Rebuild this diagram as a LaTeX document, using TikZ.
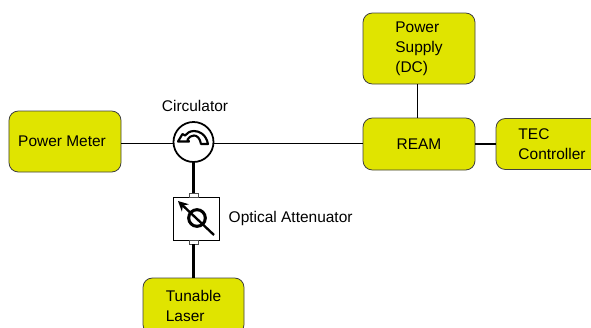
\documentclass[tikz,border=0pt]{standalone}
\usepackage{fontspec}
\setmainfont{Liberation Sans}
\usepackage{xcolor}
\usepackage{tikz}
\usetikzlibrary{arrows.meta, calc}
\definecolor{boxyellow}{RGB}{224,228,0}

\begin{document}
\begin{tikzpicture}[
    x=0.03cm, y=-0.03cm,
    box/.style={rectangle, draw=black!75, fill=boxyellow, rounded corners=8pt, line width=0.7pt, align=left, inner sep=0pt, font=\fontsize{13.2}{17}\selectfont},
    label text/.style={align=left, inner sep=0pt, font=\fontsize{13.2}{17}\selectfont},
    link/.style={line width=1.3pt},
    thick link/.style={line width=1.8pt},
    port/.style={rectangle, draw=black!70, fill=white, line width=0.5pt, minimum width=0.27cm, minimum height=0.12cm, inner sep=0pt}
]
\useasboundingbox[clip] (0, 0) rectangle (591, 327);

% boxes
\node[box, minimum width=3.36cm, minimum height=1.83cm] (meter) at (65, 141.5) {Power Meter\hspace*{5pt}};
\node[box, minimum width=3.36cm, minimum height=2.13cm] (supply) at (419, 48.5) {Power\\Supply\\(DC)};
\node[box, minimum width=3.36cm, minimum height=1.56cm] (ream) at (419, 144) {REAM};
\node[box, minimum width=3.36cm, minimum height=1.53cm] (tec) at (552, 144) {TEC\\Controller};
\node[box, minimum width=3.03cm, minimum height=1.68cm] (laser) at (193.5, 306) {Tunable\\Laser};

% circulator
\node[circle, draw=black, fill=white, line width=1.5pt, minimum size=1.2cm, inner sep=0pt] (circ) at (193.5, 142) {};
\draw[line width=1.8pt, fill=white, line join=round] (208, 144) .. controls (206, 134) and (199, 131) .. (194, 131) .. controls (190, 131) and (187, 133) .. (185, 135.5) -- (182.5, 134) -- (178, 141.5) -- (189, 141.5) -- (187.5, 139.5) .. controls (189, 137) and (191.5, 135.5) .. (194, 135.5) .. controls (197, 135.5) and (200, 138) .. (201, 144) -- cycle;

% attenuator
\node[rectangle, draw=black, fill=white, line width=0.8pt, minimum width=1.38cm, minimum height=1.29cm, inner sep=0pt] (atten) at (196, 218.5) {};
\node[port] (portin) at (193.5, 195) {};
\node[port] (portout) at (193.5, 242) {};
\node[circle, draw=black, line width=2.6pt, minimum size=0.5cm, inner sep=0pt] (dial) at (197, 218) {};
\draw[line width=2pt, -{Stealth[length=3mm, width=3mm]}] (214, 235) -- (178, 201);

% links
\coordinate (hub) at (193.5, 143.5);
\draw[link] (meter.east |- hub) -- (circ.west |- hub);
\draw[link] (circ.east |- hub) -- (ream.west |- hub);
\draw[link] ($(supply.south)+(-1.5,0)$) -- ($(ream.north)+(-1.5,0)$);
\draw[link] (ream.east) -- (tec.west);
\draw[thick link] (circ.south) -- (portin.north);
\draw[thick link] (portout.south) -- (laser.north);

% captions
\node[label text] (circcap) at (195, 106) {Circulator};
\node[label text, anchor=west] (attencap) at (228.5, 218) {Optical Attenuator};

\end{tikzpicture}
\end{document}
